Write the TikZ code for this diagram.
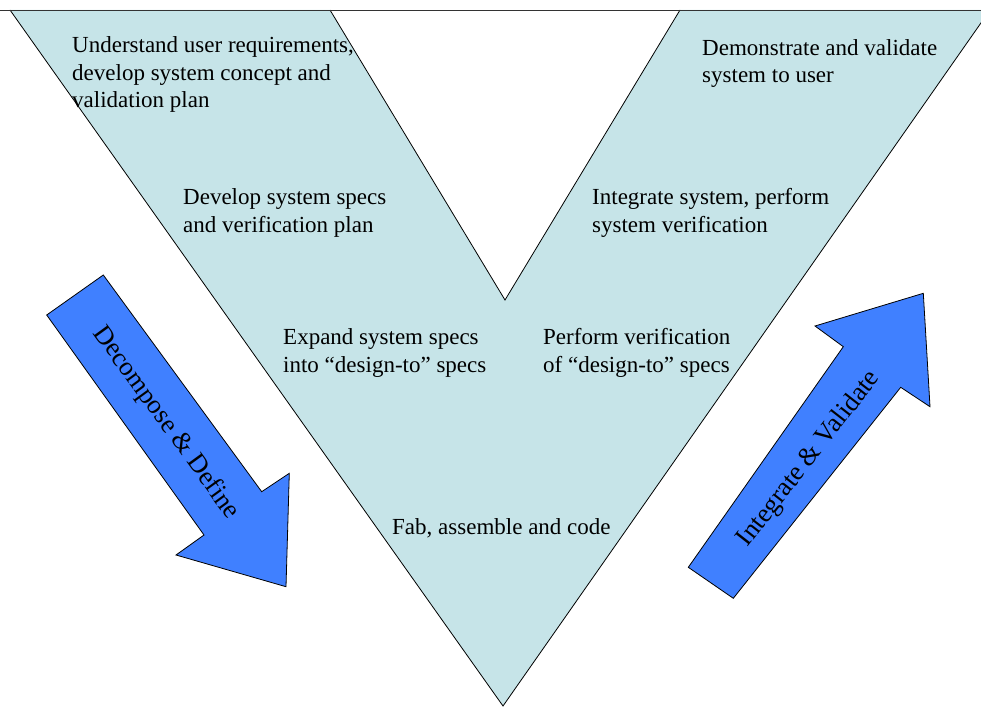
\documentclass[tikz,border=0pt]{standalone}
\usepackage{fontspec}
\setmainfont{Liberation Serif}
\definecolor{vfill}{RGB}{198,228,232}
\definecolor{arrfill}{RGB}{64,128,255}
\begin{document}
\begin{tikzpicture}[x=1pt,y=-1pt,
  vtext/.style={anchor=north west,inner sep=0pt,align=left,font=\fontsize{23}{27.6}\selectfont},
  atext/.style={inner sep=0pt,font=\fontsize{26.5}{32}\selectfont},
  outl/.style={draw=black,line width=0.8pt,line join=miter}]
\useasboundingbox (0,0) rectangle (981,706);
\begin{scope}
\clip (0,0) rectangle (981,706);
\fill[vfill] (10,10) -- (330,10) -- (505,300) -- (680,10) -- (990,10) -- (503,706) -- cycle;
\draw[outl] (330,10) -- (505,300) -- (680,10);
\draw[outl] (10,10) -- (503,706) -- (990,10);
\draw[line width=0.8pt,black!80] (0,10) -- (981,10);
\end{scope}
% left arrow
\filldraw[outl,fill=arrfill] (46.7,315) -- (103.3,275) -- (261.7,491.7) -- (289.3,473.3) -- (286,586.7) -- (176,555) -- (204,535) -- cycle;
% right arrow
\filldraw[outl,fill=arrfill] (688.3,567.3) -- (733.3,598.3) -- (900.7,387.3) -- (930,406.7) -- (923.3,293.3) -- (815,326) -- (843.3,346.7) -- cycle;
\node[vtext] (t1) at (72,36.5) {Understand user requirements,\\develop system concept and\\validation plan};
\node[vtext] (t2) at (702,39) {Demonstrate and validate\\system to user};
\node[vtext] (t3) at (183,188.5) {Develop system specs\\and verification plan};
\node[vtext] (t4) at (592,188.5) {Integrate system, perform\\system verification};
\node[vtext] (t5) at (283,328.5) {Expand system specs\\into “design-to” specs};
\node[vtext] (t6) at (543,328.5) {Perform verification\\of “design-to” specs};
\node[vtext] (t7) at (392,518.5) {Fab, assemble and code};
\node[atext,rotate=-54] (a1) at (166,423) {Decompose \& Define};
\node[atext,rotate=52,anchor=base] (a2) at (814,463) {Integrate \& Validate};
\end{tikzpicture}
\end{document}
